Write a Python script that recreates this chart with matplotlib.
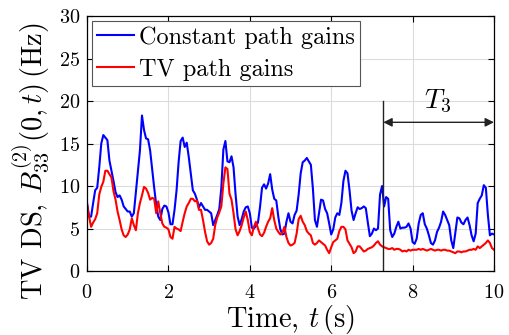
import numpy as np
import matplotlib
matplotlib.use("Agg")
import matplotlib.pyplot as plt

plt.rcParams['font.family'] = 'serif'
plt.rcParams['font.serif'] = ['cmr10']
plt.rcParams['mathtext.fontset'] = 'cm'
plt.rcParams['axes.formatter.use_mathtext'] = True

# time axis, 0.05 s step
t = np.arange(201) * 0.05

# constant path gains (blue)
ds_const = [
    8.0, 6.4, 6.4, 8.0, 9.5, 9.8, 12.2, 15.0, 16.0, 15.7,
    15.4, 13.0, 11.8, 10.6, 9.3, 8.7, 8.9, 8.4, 7.6, 7.3,
    7.0, 7.0, 6.4, 6.8, 9.3, 11.8, 14.2, 18.3, 16.6, 15.6,
    15.5, 14.2, 12.0, 9.8, 7.8, 6.4, 6.0, 7.3, 7.7, 7.6,
    6.9, 5.5, 5.5, 7.2, 9.5, 12.8, 15.3, 15.7, 14.6, 15.1,
    13.4, 11.4, 9.5, 9.1, 8.4, 7.5, 8.0, 7.6, 7.2, 7.2,
    7.0, 6.8, 5.4, 6.0, 6.6, 7.3, 9.8, 14.3, 15.3, 12.9,
    12.8, 13.5, 12.2, 9.0, 6.4, 5.4, 6.1, 7.0, 7.5, 7.6,
    6.8, 5.1, 5.0, 5.3, 5.7, 7.5, 9.8, 10.2, 9.7, 10.3,
    11.4, 9.6, 8.5, 8.3, 6.4, 4.9, 4.3, 4.4, 5.8, 6.8,
    5.8, 5.6, 6.6, 7.1, 9.0, 11.5, 12.8, 13.0, 13.3, 12.9,
    12.5, 9.7, 6.0, 5.2, 6.8, 8.4, 8.3, 7.3, 6.8, 5.6,
    4.3, 4.9, 6.3, 6.8, 6.6, 8.0, 10.6, 11.8, 11.5, 9.5,
    7.1, 6.0, 6.8, 7.5, 7.3, 7.4, 7.6, 7.4, 5.7, 4.1,
    4.4, 5.0, 4.8, 5.0, 9.0, 10.0, 7.6, 8.7, 8.5, 4.8,
    4.0, 4.4, 5.2, 5.8, 5.0, 5.1, 5.1, 5.2, 5.6, 5.0,
    3.4, 3.2, 3.8, 5.6, 6.6, 6.8, 5.5, 5.0, 4.2, 3.3,
    3.1, 3.6, 4.6, 5.1, 5.8, 7.0, 6.6, 6.0, 5.4, 3.6,
    2.7, 4.5, 6.3, 6.2, 5.7, 5.5, 6.0, 6.3, 5.4, 4.2,
    3.5, 4.4, 8.0, 8.5, 8.9, 10.1, 9.8, 6.6, 4.2, 4.4,
    4.3,
]

# time-variant path gains (red)
ds_tv = [
    7.8, 6.4, 5.2, 5.7, 6.1, 6.8, 9.0, 9.9, 10.5, 11.8,
    11.8, 11.4, 11.0, 9.4, 8.4, 7.0, 6.0, 4.9, 4.2, 4.0,
    4.3, 4.9, 6.2, 5.4, 4.8, 6.8, 8.0, 8.9, 9.9, 9.7,
    9.2, 8.4, 8.6, 8.5, 6.8, 8.2, 6.8, 5.6, 5.2, 5.1,
    4.9, 4.0, 3.8, 5.2, 5.0, 4.9, 4.7, 5.8, 6.8, 7.6,
    8.0, 8.5, 8.5, 8.2, 8.3, 7.2, 7.2, 6.0, 4.6, 3.5,
    3.1, 3.3, 3.8, 5.4, 6.3, 6.9, 7.6, 10.3, 12.2, 12.0,
    9.1, 8.4, 6.8, 4.9, 4.2, 4.7, 5.4, 6.3, 7.0, 6.0,
    4.6, 4.2, 5.2, 5.8, 5.0, 4.3, 4.1, 4.5, 5.2, 5.8,
    6.2, 7.4, 6.0, 5.0, 4.6, 4.3, 4.5, 5.2, 4.0, 3.3,
    3.0, 3.1, 3.3, 4.4, 6.1, 6.5, 5.8, 5.4, 4.7, 4.4,
    4.2, 3.3, 3.1, 3.3, 3.6, 3.4, 3.2, 3.0, 2.5, 2.1,
    2.8, 3.4, 3.6, 3.8, 4.7, 5.2, 5.2, 4.9, 3.6, 3.2,
    2.8, 2.1, 2.3, 2.9, 2.9, 2.6, 2.3, 2.4, 2.6, 2.7,
    2.8, 3.0, 3.3, 3.5, 3.1, 2.9, 2.8, 2.7, 2.6, 2.6,
    2.7, 2.5, 2.6, 2.6, 2.5, 2.3, 2.4, 2.3, 2.5, 2.4,
    2.5, 2.5, 2.5, 2.6, 2.5, 2.6, 2.5, 2.4, 2.5, 2.6,
    2.5, 2.4, 2.5, 2.5, 2.4, 2.5, 2.5, 2.4, 2.4, 2.3,
    2.2, 2.1, 2.3, 2.3, 2.2, 2.3, 2.3, 2.4, 2.5, 2.5,
    2.6, 2.5, 2.9, 2.7, 2.9, 3.1, 3.3, 3.6, 3.3, 2.7,
    2.5,
]

t_start = 7.28   # start of T3 interval
t_end = 10.0

fig = plt.figure(figsize=(5.09, 3.35), dpi=100)
ax = fig.add_axes([0.171, 0.191, 0.7995, 0.761])

ax.plot(t, ds_const, color=(0, 0, 1), lw=1.5, label='Constant path gains')
ax.plot(t, ds_tv, color=(1, 0, 0), lw=1.5, label='TV path gains')

ax.set_xlim(0, 10)
ax.set_ylim(0, 30)
ax.set_xticks(np.arange(0, 11, 2))
ax.set_yticks(np.arange(0, 31, 5))
ax.grid(True, color='#dcdcdc', lw=0.8)
ax.set_axisbelow(True)
ax.tick_params(direction='in', top=True, right=True, length=4, width=0.8,
               labelsize=14.5)
ax.tick_params(axis='x', pad=9)
ax.tick_params(axis='y', pad=5)
for s in ax.spines.values():
    s.set_linewidth(0.9)

ax.set_xlabel(r'Time, $t\,$(s)', fontsize=20.5, labelpad=1)
ax.set_ylabel(r'TV DS, $B_{33}^{(2)}(0,t)\,$(Hz)', fontsize=20.5)
ax.yaxis.set_label_coords(-0.085, 0.43)

# T3 marker
ax.plot([t_start, t_start], [0, 20], color='#222222', lw=1.0)
ax.annotate('', xy=(t_start, 17.5), xytext=(t_end, 17.5),
            arrowprops=dict(arrowstyle='<|-|>', color='#222222', lw=1.0,
                            mutation_scale=13, shrinkA=0, shrinkB=0))
ax.text(8.62, 20.0, r'$T_3$', fontsize=20, ha='center', va='center')

leg = ax.legend(loc='upper left', fontsize=17.5, handlelength=1.5,
                handletextpad=0.2, labelspacing=0.4, borderpad=0.22,
                borderaxespad=0.2, fancybox=False, framealpha=1)
leg.get_frame().set_edgecolor('#555555')
leg.get_frame().set_linewidth(0.8)

fig.savefig('out.png', dpi=100)
